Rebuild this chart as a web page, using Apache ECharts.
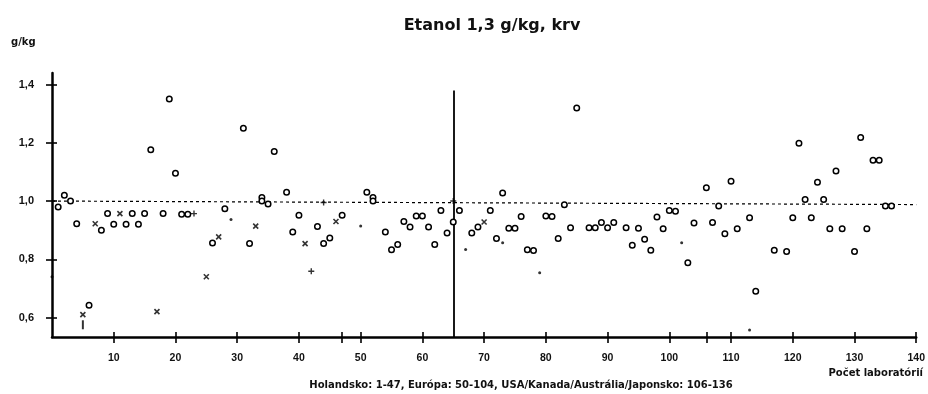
<!DOCTYPE html>
<html>
<head>
<meta charset="utf-8">
<script src="https://cdn.jsdelivr.net/npm/echarts@6/dist/echarts.min.js"></script>
<style>html,body{margin:0;padding:0;background:#fff}#c{width:928px;height:394px}</style>
</head>
<body>
<div id="c"></div>
<script>
// ---- data ----
const titleText = 'Etanol 1,3 g/kg, krv';
const yUnit = 'g/kg';
const xName = 'Počet laboratórií';
const footnote = 'Holandsko: 1-47, Európa: 50-104, USA/Kanada/Austrália/Japonsko: 106-136';
const xTickLabels = [10,20,30,40,50,60,70,80,90,100,110,120,130,140];
const xExtraTicks = [47,106];
const yTickLabels = [0.6,0.8,1.0,1.2,1.4];
const xRange = [0,140];
const yRange = [0.533,1.44];
// hollow circle results
const circles = [[1,0.98],[2,1.02],[3,1.0],[4,0.922],[6,0.642],[8,0.90],[9,0.957],[10,0.92],[12,0.92],[13,0.957],[14,0.92],[15,0.957],[16,1.176],[18,0.957],[19,1.351],[20,1.096],[21,0.955],[22,0.955],[26,0.856],[28,0.974],[31,1.25],[32,0.854],[34,1.012],[34,1.0],[35,0.99],[36,1.17],[38,1.03],[39,0.894],[40,0.951],[43,0.913],[44,0.854],[45,0.873],[47,0.951],[51,1.03],[52,1.012],[52,1.0],[54,0.894],[55,0.833],[56,0.851],[57,0.93],[58,0.911],[59,0.949],[60,0.949],[61,0.911],[62,0.851],[63,0.968],[64,0.89],[65,0.928],[66,0.968],[68,0.89],[69,0.911],[71,0.968],[72,0.871],[73,1.028],[74,0.907],[75,0.907],[76,0.947],[77,0.833],[78,0.83],[80,0.949],[81,0.947],[82,0.871],[83,0.987],[84,0.908],[85,1.32],[87,0.908],[88,0.908],[89,0.926],[90,0.908],[91,0.926],[93,0.908],[94,0.848],[95,0.907],[96,0.869],[97,0.831],[98,0.945],[99,0.905],[100,0.968],[101,0.965],[103,0.788],[104,0.925],[106,1.046],[107,0.926],[108,0.983],[109,0.888],[110,1.068],[111,0.905],[113,0.943],[114,0.69],[117,0.831],[119,0.827],[120,0.943],[121,1.199],[122,1.005],[123,0.943],[124,1.065],[125,1.005],[126,0.905],[127,1.103],[128,0.905],[130,0.827],[131,1.218],[132,0.905],[133,1.14],[134,1.14],[135,0.983],[136,0.983]];
// "x" marked results
const crosses = [[5,0.61],[7,0.922],[11,0.957],[17,0.62],[25,0.74],[27,0.877],[33,0.914],[41,0.854],[46,0.93],[70,0.928]];
// "+" marked results
const pluses = [[23,0.957],[42,0.759],[44,0.995],[65,1.0]];
// small dots
const dots = [[0,0.74],[29,0.937],[50,0.914],[67,0.834],[73,0.857],[79,0.754],[102,0.857],[113,0.557]];
// short vertical bar mark
const bars = [[5,0.575]];
// reference (target) line and group separator
const targetLine = [[0,1.0],[140,0.988]];
const separator = [[65,0.533],[65,1.38]];

const WIDE = "'DejaVu Sans','Liberation Sans',Arial,sans-serif";
const NUM = "'Liberation Sans',Arial,sans-serif";
const chart = echarts.init(document.getElementById('c'), null, {renderer:'canvas'});
const yFmt = v => v.toFixed(1).replace('.', ',');

const baseX = {
  type:'value', min:xRange[0], max:xRange[1], gridIndex:0, position:'bottom',
  splitLine:{show:false}
};
const baseY = {
  type:'value', min:yRange[0], max:yRange[1], gridIndex:0, position:'left',
  splitLine:{show:false}
};

chart.setOption({
  backgroundColor:'#fff',
  animation:false,
  title:[
    {text:titleText, left:492, top:18, padding:0, textAlign:'center',
     textStyle:{fontFamily:WIDE, fontWeight:'bold', fontSize:16, color:'#111'}},
    {text:yUnit, left:11, top:37, padding:0,
     textStyle:{fontFamily:WIDE, fontWeight:'bold', fontSize:10, color:'#111'}},
    {text:xName, left:923, top:368, padding:0, textAlign:'right',
     textStyle:{fontFamily:WIDE, fontWeight:'bold', fontSize:10, color:'#111'}},
    {text:footnote, left:521, top:380, padding:0, textAlign:'center',
     textStyle:{fontFamily:WIDE, fontWeight:'bold', fontSize:10, color:'#111'}}
  ],
  grid:{left:52, right:9, top:73, bottom:57, containLabel:false},
  xAxis:[
    Object.assign({}, baseX, {
      axisLine:{show:true, lineStyle:{color:'#000', width:2.5}},
      axisTick:{show:true, inside:false, length:6, customValues:xTickLabels.concat(xExtraTicks), lineStyle:{color:'#000', width:1.6}},
      axisLabel:{show:true, margin:16, customValues:xTickLabels, fontFamily:NUM, fontWeight:'bold', fontSize:10.5, color:'#111'}
    }),
    Object.assign({}, baseX, {
      axisLine:{show:false},
      axisTick:{show:true, inside:true, length:5, customValues:xTickLabels.concat(xExtraTicks), lineStyle:{color:'#000', width:1.6}},
      axisLabel:{show:false}
    })
  ],
  yAxis:[
    Object.assign({}, baseY, {
      axisLine:{show:true, lineStyle:{color:'#000', width:2.5}},
      axisTick:{show:true, inside:false, length:6, customValues:yTickLabels, lineStyle:{color:'#000', width:1.6}},
      axisLabel:{show:true, margin:18, customValues:yTickLabels, formatter:yFmt, fontFamily:NUM, fontWeight:'bold', fontSize:11, color:'#111'}
    }),
    Object.assign({}, baseY, {
      axisLine:{show:false},
      axisTick:{show:true, inside:true, length:5, customValues:yTickLabels, lineStyle:{color:'#000', width:1.6}},
      axisLabel:{show:false}
    })
  ],
  series:[
    {
      type:'scatter', name:'o', data:circles, symbol:'circle', symbolSize:5.5,
      itemStyle:{color:'#fff', borderColor:'#000', borderWidth:1.5, opacity:1},
      z:3,
      markLine:{
        silent:true, symbol:['none','none'], label:{show:false}, z:2,
        data:[
          [{coord:targetLine[0], lineStyle:{type:[3,3], width:1.2, color:'#000'}},{coord:targetLine[1]}],
          [{coord:separator[0], lineStyle:{type:'solid', width:1.8, color:'#000'}},{coord:separator[1]}]
        ]
      }
    },
    {
      type:'scatter', name:'x', data:crosses, symbol:'path://M0,0L10,10M10,0L0,10', symbolSize:5,
      itemStyle:{color:'none', borderColor:'#000', borderWidth:1.6}
    },
    {
      type:'scatter', name:'+', data:pluses, symbol:'path://M5,0L5,10M0,5L10,5', symbolSize:6,
      itemStyle:{color:'none', borderColor:'#000', borderWidth:1.4}
    },
    {
      type:'scatter', name:'.', data:dots, symbol:'circle', symbolSize:3,
      itemStyle:{color:'#000'}
    },
    {
      type:'scatter', name:'|', data:bars, symbol:'rect', symbolSize:[2,9],
      itemStyle:{color:'#000'}
    }
  ]
});
</script>
</body>
</html>
